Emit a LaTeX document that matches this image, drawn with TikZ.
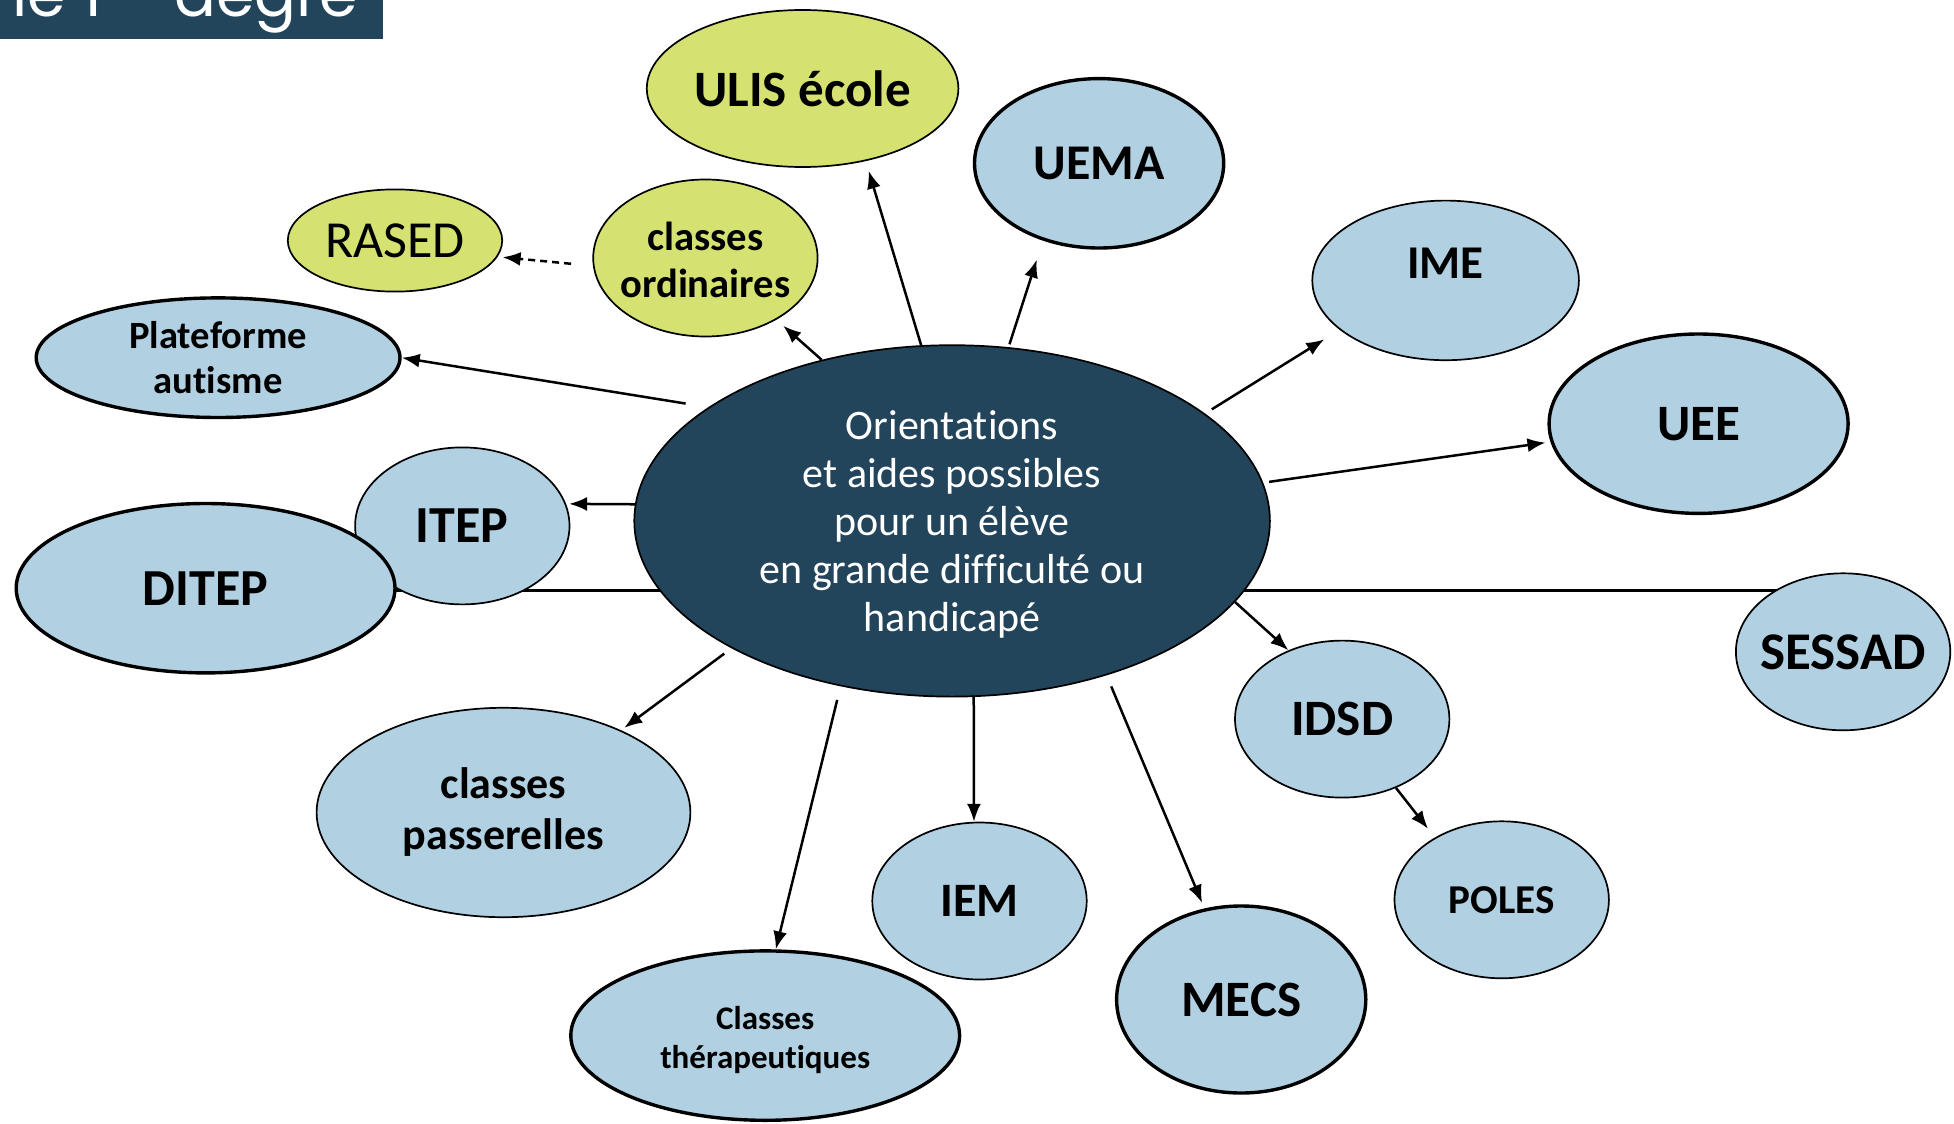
\documentclass[tikz,border=0pt]{standalone}
\usepackage{fontspec}
\setmainfont{Carlito}[Ligatures=NoCommon]
\newfontfamily\titlefont{Poppins}
\usetikzlibrary{shapes.geometric,arrows.meta,backgrounds}
\definecolor{lblue}{RGB}{177,208,225}
\definecolor{ygreen}{RGB}{213,225,112}
\definecolor{dark}{RGB}{34,69,91}
\begin{document}
\begin{tikzpicture}[x=1pt,y=-1pt,
  ell/.style={ellipse, draw=black, inner sep=0pt, line width=1.7pt, fill=lblue},
  thickb/.style={line width=3.4pt},
  yel/.style={fill=ygreen},
  sz/.style 2 args={minimum width=#1pt, minimum height=#2pt},
  fs/.style 2 args={font=\fontsize{#1}{#2}\selectfont\bfseries},
  fr/.style 2 args={font=\fontsize{#1}{#2}\selectfont},
  every label/.style={align=center, inner sep=0pt, text=black},
  arr/.style={line width=2.5pt, -{Latex[length=18pt,width=14pt]}},
  link/.style={line width=2.5pt}
]
\useasboundingbox (0,0) rectangle (1954,1124);

% title bar (cut off at the top)
\fill[dark] (0,0) rectangle (383,39);
\begin{scope}
  \clip (0,0) rectangle (383,39);
  \node[anchor=base west, inner sep=0pt, text=white, font=\titlefont\fontsize{62}{70}\selectfont] (title) at (12,17)
    {le 1\raisebox{0.9em}{\fontsize{36}{40}\selectfont er}\hspace{20pt} degré};
\end{scope}

% central node
\node[ellipse, draw=black, line width=1.7pt, fill=dark, inner sep=0pt, sz={635.6}{351.4},
  label={[fr={42}{48}, text=white, yshift=-4pt]center:{Orientations\\et aides possibles\\pour un élève\\en grande difficulté ou\\handicapé}}]
  (center) at (952.1,520.9) {};

% surrounding nodes
\node[ell, yel, sz={311.6}{157}, label={[fs={51}{58}]center:ULIS école}] (ulis) at (802.6,88.5) {};
\node[ell, thickb, sz={249.2}{169.4}, label={[fs={50}{58}]center:UEMA}] (uema) at (1099.1,163.3) {};
\node[ell, sz={266.6}{159.6}, label={[fs={47}{54}, yshift=17pt]center:IME}] (ime) at (1445.6,280.4) {};
\node[ell, thickb, sz={299}{179.4}, label={[fs={51}{58}]center:UEE}] (uee) at (1698.6,423.7) {};
\node[ell, sz={214.4}{157}, label={[fs={53}{60}]center:SESSAD}] (sessad) at (1843.1,651.8) {};
\node[ell, sz={214.4}{157}, label={[fs={51}{58}]center:IDSD}] (idsd) at (1342.2,719.1) {};
\node[ell, sz={214.4}{157}, label={[fs={41}{48}]center:POLES}] (poles) at (1501.7,899.8) {};
\node[ell, thickb, sz={249.2}{187}, label={[fs={51}{58}]center:MECS}] (mecs) at (1241.2,999.5) {};
\node[ell, sz={214.4}{157}, label={[fs={48}{56}]center:IEM}] (iem) at (979.5,901) {};
\node[ell, thickb, sz={388.8}{169.4}, label={[fs={33}{39}, yshift=-4pt]center:{Classes\\thérapeutiques}}] (ther) at (765.2,1035.6) {};
\node[ell, sz={373.8}{209.4}, label={[fs={44}{51}]center:{classes\\passerelles}}] (pass) at (503.5,812.5) {};
\node[ell, sz={214.4}{157}, label={[fs={52}{60}]center:ITEP}] (itep) at (462.3,525.9) {};
\node[ell, thickb, sz={378.8}{169.4}, label={[fs={52}{60}]center:DITEP}] (ditep) at (205.6,588.2) {};
\node[ell, thickb, sz={363.8}{119.6}, label={[fs={38.6}{45}]center:{Plateforme\\autisme}}] (plat) at (218.1,357.7) {};
\node[ell, yel, sz={214.4}{102.2}, label={[fr={52}{60}]center:RASED}] (rased) at (395,240.5) {};
\node[ell, yel, sz={224.4}{157}, label={[fs={40.6}{47}, yshift=-2pt]center:{classes\\ordinaires}}] (cord) at (705.4,258) {};

% horizontal link DITEP -- centre -- SESSAD (behind the nodes)
\coordinate (hl) at (0,590.7);
\begin{scope}[on background layer]
  \draw[link] (ditep.center |- hl) -- (sessad.center |- hl);
\end{scope}

% arrows
\draw[arr, shorten >=10pt] (center.100) -- (ulis.-49);
\draw[arr, shorten <=3pt, shorten >=20pt] (center.72) -- (uema.234);
\draw[arr, shorten <=8pt, shorten >=18pt] (center.23) -- (ime.205);
\draw[arr, shorten <=6pt, shorten >=5pt] (center.7) -- (uee.187);
\draw[arr] (center.-16) -- (idsd.128);
\draw[arr, shorten >=11pt] (idsd.-52) -- (poles.137);
\draw[arr, shorten <=12pt, shorten >=6pt] (center.-45) -- (mecs.112);
\draw[arr] (center.-83) -- (iem.94);
\draw[arr, shorten <=14pt] (center.236) -- (ther.83);
\draw[arr, shorten <=9pt, shorten >=4pt] (center.210) -- (pass.35);
\draw[arr, shorten >=3pt] (center.177) -- (itep.12);
\draw[arr, shorten <=23pt] (center.155) -- (plat.0);
\draw[arr, shorten >=9pt] (center.129) -- (cord.-41);
\draw[arr, dash pattern=on 7pt off 5pt, shorten <=22pt, shorten >=5pt] (cord.184) -- (rased.-9);
\end{tikzpicture}
\end{document}
